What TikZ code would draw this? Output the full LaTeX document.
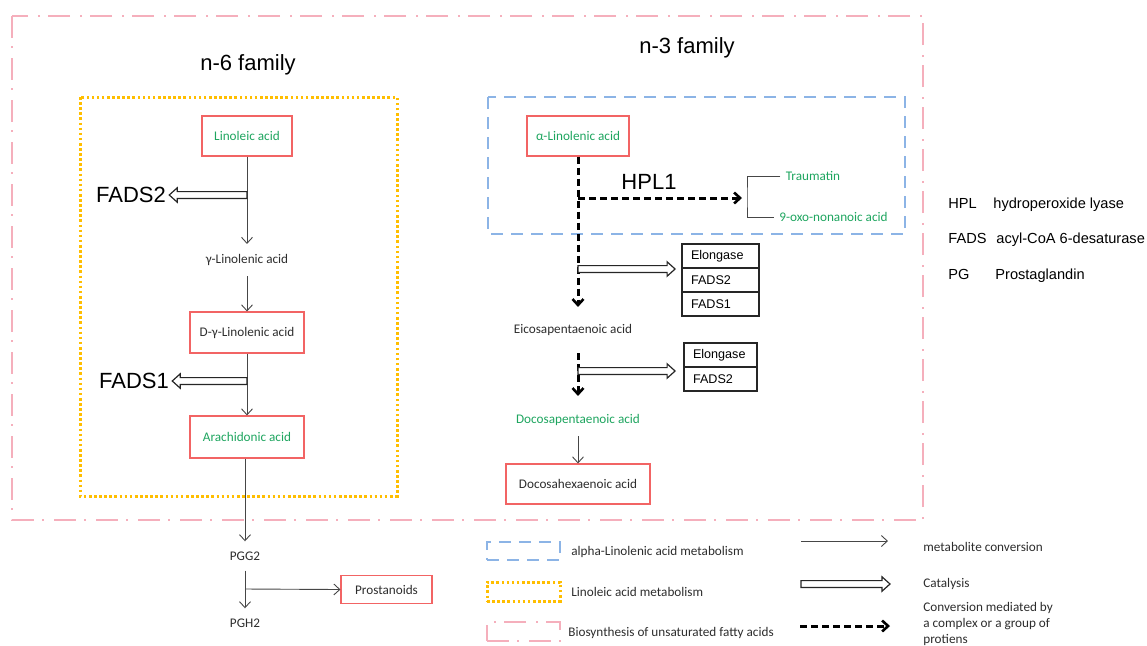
\documentclass[tikz,border=0pt]{standalone}
\usepackage{fontspec}
\setmainfont{Liberation Sans}
\newfontfamily\calfont{Carlito}
\usetikzlibrary{arrows.meta,calc}
\definecolor{pinkline}{RGB}{245,175,188}
\definecolor{orangeline}{RGB}{255,190,0}
\definecolor{blueline}{RGB}{140,180,230}
\definecolor{redbox}{RGB}{242,100,100}
\definecolor{greentxt}{RGB}{30,165,95}
\definecolor{graytxt}{RGB}{45,45,45}
\definecolor{lineg}{RGB}{70,70,70}
\newcommand{\catarrow}[3]{%
  \draw[catal] let \p1=(#1),\p2=(#2) in
   ({\x1},{\y1+1.7pt}) -- ({\x2-(#3)},{\y1+1.7pt}) -- ({\x2-(#3)},{\y1+3.6pt})
   -- ({\x2},{\y1}) -- ({\x2-(#3)},{\y1-3.6pt}) -- ({\x2-(#3)},{\y1-1.7pt})
   -- ({\x1},{\y1-1.7pt}) -- cycle;}
\tikzset{
  small/.style={font=\calfont\fontsize{6.6}{8}\selectfont},
  big/.style={font=\fontsize{11}{13}\selectfont},
  abbr/.style={font=\fontsize{7.3}{9}\selectfont, inner sep=0pt, anchor=base west},
  redb/.style={draw=redbox, line width=0.55pt, small, text=graytxt, inner sep=0pt},
  plain/.style={small, text=graytxt, inner sep=5pt},
  green/.style={text=greentxt},
  conv/.style={draw=lineg, line width=0.45pt, -{Straight Barb[length=3pt,width=5.5pt]}},
  cplx/.style={draw=black, line width=1.5pt, dash pattern=on 3.5pt off 2pt, -{Straight Barb[length=3pt,width=5.5pt,line width=1.3pt]}},
  catal/.style={draw=black!85, line width=0.6pt, fill=white},
  enz/.style={draw=black!85, line width=0.9pt, minimum height=12pt, text width=29.5pt, inner xsep=4.5pt, inner ysep=0pt, align=left, font=\fontsize{6.3}{7}\selectfont},
  pinkbox/.style={draw=pinkline, line width=1pt, dash pattern=on 11pt off 4pt on 1pt off 5pt},
  orangebox/.style={draw=orangeline, line width=1.5pt, dash pattern=on 1.3pt off 1.25pt},
  bluebox/.style={draw=blueline, line width=1.1pt, dash pattern=on 6pt off 4pt},
  legt/.style={small, text=graytxt, inner sep=0pt, anchor=base west},
}
\begin{document}
\begin{tikzpicture}[x=0.5pt,y=-0.5pt]
\useasboundingbox (0,0) rectangle (1147,645);
% group boxes
\draw[pinkbox] (12,16) rectangle (923,520);
\draw[orangebox] (80,97) rectangle (397,496);
\draw[bluebox] (488,97) rectangle (905,234);
\node[big] (n6) at (248,65) {n-6 family};
\node[big] (n3) at (687,48) {n-3 family};
% n-6 pathway
\node[redb, green, minimum width=45pt, minimum height=20pt] (lin) at (247,136) {Linoleic acid};
\node[plain] (gla) at (247,260) {γ-Linolenic acid};
\node[redb, minimum width=57pt, minimum height=20.5pt] (dgla) at (247,332.5) {D-γ-Linolenic acid};
\node[redb, green, minimum width=57pt, minimum height=21pt] (ara) at (247,437) {Arachidonic acid};
\node[plain] (pgg2) at (245,556) {PGG2};
\node[plain] (pgh2) at (245,623) {PGH2};
\node[redb, minimum width=45.5pt, minimum height=14pt] (pros) at (386.5,589.5) {Prostanoids};
\node[big, inner sep=1.5pt] (f2l) at (131,195) {FADS2};
\node[big, inner sep=1.5pt] (f1l) at (134,381) {FADS1};
\draw[conv] (lin.south) -- (gla.north);
\draw[conv] (gla.south) -- (dgla.north);
\draw[conv] (dgla.south) -- (ara.north);
\draw[conv] (ara.south -| pgg2.north) -- (pgg2.north);
\draw[conv] (pgg2.south) -- (pgh2.north);
\coordinate (br) at (245,589);
\draw[conv] (br) -- (pros.west);
\coordinate (f2s) at (247,195);
\coordinate (f1s) at (247,381);
\catarrow{f2s}{f2l.east}{-4pt}
\catarrow{f1s}{f1l.east}{-4pt}
% n-3 pathway
\node[redb, green, minimum width=51pt, minimum height=20pt] (ala) at (578,136) {α-Linolenic acid};
\node[plain] (epa) at (573,330) {Eicosapentaenoic acid};
\node[plain, green] (dpa) at (578,420) {Docosapentaenoic acid};
\node[redb, minimum width=72pt, minimum height=20pt] (dha) at (578,484) {Docosahexaenoic acid};
\node[big] (hpl) at (649,182) {HPL1};
\node[small, green, inner sep=2.5pt] (trau) at (813,176) {Traumatin};
\node[small, green, inner sep=2.5pt] (oxo) at (833.5,217) {9-oxo-nonanoic acid};
\coordinate (bkt) at (747,198);
\draw[lineg, line width=0.45pt] (trau.west) -| (bkt) |- (oxo.west);
\coordinate (hplb) at (578,198);
\draw[cplx, shorten >=2.5pt] (hplb) -- (bkt);
\draw[cplx, shorten >=3.5pt] (ala.south) -- (ala.south |- epa.north);
\draw[cplx, shorten <=3.5pt, shorten >=4pt] (epa.south -| ala.south) -- (dpa.north -| ala.south);
\draw[conv] (dpa.south) -- (dha.north);
% enzyme boxes
\node[enz, minimum width=38.5pt] (e1a) at (720.5,256) {Elongase};
\node[enz, minimum width=38.5pt] (e1b) at (720.5,280) {FADS2};
\node[enz, minimum width=38.5pt] (e1c) at (720.5,304) {FADS1};
\node[enz, minimum width=36.5pt, text width=27.5pt] (e2a) at (720.5,355) {Elongase};
\node[enz, minimum width=36.5pt, text width=27.5pt] (e2b) at (720.5,379) {FADS2};
\coordinate (c1s) at (578,269);
\coordinate (c2s) at (578,371);
\coordinate (c1e) at ($(e1a.south west)+(-6,0)$);
\coordinate (c2e) at ($(e2a.south west)+(-8,0)$);
\catarrow{c1s}{c1e}{4pt}
\catarrow{c2s}{c2e}{4pt}
% abbreviations
\node[abbr] (a1) at (948,208) {HPL};
\node[abbr] (a1t) at (993,208) {hydroperoxide lyase};
\node[abbr] (a2) at (948,243) {FADS};
\node[abbr] (a2t) at (996,243) {acyl-CoA 6-desaturase};
\node[abbr] (a3) at (948,279) {PG};
\node[abbr] (a3t) at (995,279) {Prostaglandin};
% legend boxes
\node[bluebox, minimum width=36.5pt, minimum height=9pt, inner sep=0pt] (lg1) at (523.5,551) {};
\node[orangebox, minimum width=36.5pt, minimum height=9.5pt, inner sep=0pt] (lg2) at (523.5,591.5) {};
\node[pinkbox, minimum width=36.5pt, minimum height=9.5pt, inner sep=0pt] (lg3) at (523.5,631.5) {};
\node[legt] (lg1t) at (571,555) {alpha-Linolenic acid metabolism};
\node[legt] (lg2t) at (571,596) {Linoleic acid metabolism};
\node[legt] (lg3t) at (568,636) {Biosynthesis of unsaturated fatty acids};
% legend arrows
\coordinate (la1) at (801,541); \coordinate (lb1) at (888,541);
\coordinate (la2) at (801,584); \coordinate (lb2) at (890,584);
\coordinate (la3) at (800,626); \coordinate (lb3) at (890,626);
\draw[conv] (la1) -- (lb1);
\catarrow{la2}{lb2}{4pt}
\draw[cplx] (la3) -- (lb3);
\node[legt] (lt1) at (923,551) {metabolite conversion};
\node[legt] (lt2) at (923,587) {Catalysis};
\node[small, text=graytxt, inner sep=0pt, anchor=west, align=left] (lt3) at (923,624) {Conversion mediated by\\a complex or a group of\\protiens};
\end{tikzpicture}
\end{document}
